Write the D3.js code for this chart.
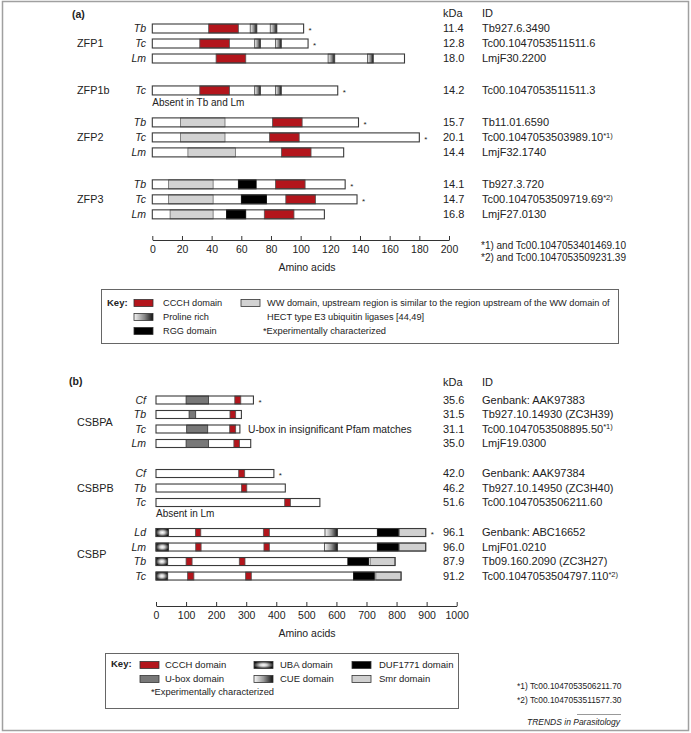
<!DOCTYPE html>
<html><head><meta charset="utf-8">
<script src="https://cdn.jsdelivr.net/npm/d3@7"></script>
<style>body{margin:0;background:#fff}svg{display:block}text{font-family:"Liberation Sans",Arial,Helvetica,sans-serif;fill:#222}</style>
</head><body>
<svg id="c" width="691" height="733"></svg>
<script>
// ---------- Panel (a) data ----------
const aGroups = ["ZFP1","ZFP1b","ZFP2","ZFP3"];
const aGroupOf = [0,0,0,1,2,2,2,3,3,3];
const aSpecies = ["Tb","Tc","Lm","Tc","Tb","Tc","Lm","Tb","Tc","Lm"];
const aLength = [102,105,170,125,139,180,129,130,138,116];
const aStar = [1,1,0,1,1,1,0,1,1,0];
const aKDa = ["11.4","12.8","18.0","14.2","15.7","20.1","14.4","14.1","14.7","16.8"];
const aID = ["Tb927.6.3490","Tc00.1047053511511.6","LmjF30.2200","Tc00.1047053511511.3","Tb11.01.6590","Tc00.1047053503989.10","LmjF32.1740","Tb927.3.720","Tc00.1047053509719.69","LmjF27.0130"];
const aSup = ["","","","","","*1)","","","*2)",""];
const aDomains = [
  [["CCCH",38,58],["PRO",66,70.5],["PRO",79.5,84]],
  [["CCCH",32,52],["PRO",69,73],["PRO",83,87]],
  [["CCCH",43,63],["PRO",118.5,123],["PRO",145,149]],
  [["CCCH",32,52],["PRO",69,73],["PRO",83,87]],
  [["WW",19,49],["CCCH",81,101]],
  [["WW",19,49],["CCCH",79,99]],
  [["WW",24,56],["CCCH",87,107]],
  [["WW",11,41],["RGG",58,70],["CCCH",83,103]],
  [["WW",11,41],["RGG",60,77],["CCCH",90,110]],
  [["WW",12,41],["RGG",50,63],["CCCH",75.5,95.5]]
];
const aTicks = [0,20,40,60,80,100,120,140,160,180,200];
const aNotes = ["*1) and Tc00.1047053401469.10","*2) and Tc00.1047053509231.39"];
const aAbsent = [{row:3,text:"Absent in Tb and Lm"}];

// ---------- Panel (b) data ----------
const bGroups = ["CSBPA","CSBPB","CSBP"];
const bGroupOf = [0,0,0,0,1,1,1,2,2,2,2];
const bSpecies = ["Cf","Tb","Tc","Lm","Cf","Tb","Tc","Ld","Lm","Tb","Tc"];
const bLength = [324,284,279,315,392,430,545,897,897,795,815];
const bStar = [1,0,0,0,1,0,0,1,0,0,0];
const bKDa = ["35.6","31.5","31.1","35.0","42.0","46.2","51.6","96.1","96.0","87.9","91.2"];
const bID = ["Genbank: AAK97383","Tb927.10.14930 (ZC3H39)","Tc00.1047053508895.50","LmjF19.0300","Genbank: AAK97384","Tb927.10.14950 (ZC3H40)","Tc00.1047053506211.60","Genbank: ABC16652","LmjF01.0210","Tb09.160.2090 (ZC3H27)","Tc00.1047053504797.110"];
const bSup = ["","","*1)","","","","","","","","*2)"];
const bDomains = [
  [["UBOX",100,175],["CCCH",262,282]],
  [["UBOX",110,132],["CCCH",246,265]],
  [["UBOX",102,172],["CCCH",245,265]],
  [["UBOX",100,175],["CCCH",259,278]],
  [["CCCH",275,295]],
  [["CCCH",284,302]],
  [["CCCH",428,447]],
  [["UBA",0,42],["CCCH",131,149],["CCCH",357,377],["CUE",562,604],["DUF",736,806],["SMR",809,897]],
  [["UBA",0,42],["CCCH",132,150],["CCCH",359,377],["CUE",560,604],["DUF",736,806],["SMR",809,897]],
  [["UBA",0,39],["CCCH",100,120],["CCCH",277,296],["DUF",638,707],["SMR",712,795]],
  [["UBA",0,39],["CCCH",105,126],["CCCH",298,317],["DUF",657,726],["SMR",731,815]]
];
const bTicks = [0,100,200,300,400,500,600,700,800,900,1000];
const bNotes = ["*1) Tc00.1047053506211.70","*2) Tc00.1047053511577.30"];
const bAbsent = [{row:6,text:"Absent in Lm"}];
const bSideNote = [{row:2,text:"U-box in insignificant Pfam matches"}];

// ---------- Keys ----------
const aKey = [
  {type:"CCCH",label:["CCCH domain"],col:0,row:0},
  {type:"PRO",label:["Proline rich"],col:0,row:1},
  {type:"RGG",label:["RGG domain"],col:0,row:2},
  {type:"WW",label:["WW domain, upstream region is similar to the region upstream of the WW domain of","HECT type E3 ubiquitin ligases [44,49]"],col:1,row:0}
];
const bKey = [
  {type:"CCCH",label:["CCCH domain"],col:0,row:0},
  {type:"UBOX",label:["U-box domain"],col:0,row:1},
  {type:"UBA",label:["UBA domain"],col:1,row:0},
  {type:"CUE",label:["CUE domain"],col:1,row:1},
  {type:"DUF",label:["DUF1771 domain"],col:2,row:0},
  {type:"SMR",label:["Smr domain"],col:2,row:1}
];

const FONT = "Liberation Sans, Arial, Helvetica, sans-serif";
const svg = d3.select("#c");
const defs = svg.append("defs");
function lin(id, stops){
  const g = defs.append("linearGradient").attr("id",id).attr("x1","0").attr("x2","1").attr("y1","0").attr("y2","0");
  stops.forEach(s=>g.append("stop").attr("offset",s[0]).attr("stop-color",s[1]));
}
lin("gPro",[[0,"#f4f4f4"],[0.55,"#888"],[1,"#111"]]);
lin("gCue",[[0,"#fafafa"],[0.5,"#999"],[1,"#111"]]);
const rg = defs.append("radialGradient").attr("id","gUba").attr("cx","0.5").attr("cy","0.5").attr("r","0.55");
[[0,"#ffffff"],[0.35,"#cfcfcf"],[0.75,"#555"],[1,"#111"]].forEach(s=>rg.append("stop").attr("offset",s[0]).attr("stop-color",s[1]));

const fills = {CCCH:"#b3151c",PRO:"url(#gPro)",RGG:"#000",WW:"#d2d2d2",UBOX:"#787878",UBA:"url(#gUba)",CUE:"url(#gCue)",DUF:"#000",SMR:"#d0d0d0"};
const strokes = {CCCH:"#555",PRO:"#444",RGG:"#000",WW:"#6a6a6a",UBOX:"#333",UBA:"#333",CUE:"#333",DUF:"#000",SMR:"#555"};

svg.append("rect").attr("x",2.5).attr("y",1.5).attr("width",686).attr("height",729).attr("fill","none").attr("stroke","#a0a0a0").attr("stroke-width",1.5);

function txt(g,x,y,s,o={}){
  const t = g.append("text").attr("x",x).attr("y",y).attr("dy","0.35em").text(s)
    .style("font-size",(o.size||10.5)+"px");
  if(o.anchor) t.attr("text-anchor",o.anchor);
  if(o.italic) t.style("font-style","italic");
  if(o.bold) t.style("font-weight","bold");
  return t;
}

function panel(cfg){
  const g = svg.append("g");
  const x = d3.scaleLinear().domain(cfg.xDomain).range(cfg.xRange);
  const slot = cfg.groupOf.map((gi,i)=>i+gi*cfg.gapSlots);
  const y = d3.scaleLinear().domain([0,1]).range([cfg.y0,cfg.y0+cfg.pitch]);
  const h = cfg.barH;
  txt(g,cfg.tagX,cfg.tagY,cfg.tag,{bold:true,size:10.5});
  txt(g,cfg.kdaX,cfg.headY,"kDa",{size:11});
  txt(g,cfg.idX,cfg.headY,"ID",{size:11});
  cfg.groups.forEach((name,gi)=>{
    const rows = slot.filter((s,i)=>cfg.groupOf[i]===gi);
    const yc = y((d3.min(rows)+d3.max(rows))/2);
    txt(g,cfg.groupX,yc,name,{size:10.8});
  });
  cfg.species.forEach((sp,i)=>{
    const yc = y(slot[i]);
    txt(g,cfg.spX,yc,sp,{italic:true,anchor:"end"});
    const row = g.append("g");
    row.append("rect").attr("x",x(0)).attr("y",yc-h/2).attr("width",x(cfg.length[i])-x(0)).attr("height",h)
      .attr("fill","#fff");
    cfg.domains[i].forEach(d=>{
      row.append("rect").attr("x",x(d[1])).attr("y",yc-h/2).attr("width",x(d[2])-x(d[1])).attr("height",h)
        .attr("fill",fills[d[0]]).attr("stroke",strokes[d[0]]).attr("stroke-width",0.8);
    });
    row.append("rect").attr("x",x(0)).attr("y",yc-h/2).attr("width",x(cfg.length[i])-x(0)).attr("height",h)
      .attr("fill","none").attr("stroke","#3a3a3a").attr("stroke-width",1.1);
    if(cfg.star[i]) txt(g,x(cfg.length[i])+5,yc+2,"*",{size:8});
    txt(g,cfg.kdaX,yc,cfg.kda[i],{size:11});
    const t = txt(g,cfg.idX,yc,cfg.ids[i],{size:11});
    if(cfg.sup[i]) t.append("tspan").attr("dy","-0.45em").style("font-size","7.5px").text(cfg.sup[i]);
  });
  cfg.absent.forEach(a=>txt(g,x(0),y(slot[a.row])+cfg.absentDy,a.text,{size:10}));
  (cfg.side||[]).forEach(a=>txt(g,cfg.sideX,y(slot[a.row]),a.text,{size:10.3}));
  const ax = g.append("g").attr("transform",`translate(0,${cfg.axisY})`)
    .call(d3.axisBottom(x).tickValues(cfg.ticks).tickFormat(d3.format("d")).tickSizeInner(-4).tickSizeOuter(0).tickPadding(6));
  ax.select(".domain").attr("stroke","#333");
  ax.selectAll(".tick line").attr("stroke","#333");
  ax.selectAll("text").style("font-size","10.5px").style("font-family",FONT).attr("fill","#222");
  txt(g,cfg.labelX,cfg.axisY+27,"Amino acids",{anchor:"middle"});
  cfg.notes.forEach((n,k)=>txt(g,cfg.noteX,cfg.noteY+k*cfg.noteDy,n,{size:cfg.noteSize}));
}

panel({tag:"(a)",tagX:72,tagY:14,headY:13,kdaX:443,idX:482,groupX:77,spX:146,
  xDomain:[0,200],xRange:[152.3,449],y0:28.5,pitch:15,gapSlots:1.13,barH:9,
  groups:aGroups,groupOf:aGroupOf,species:aSpecies,length:aLength,star:aStar,kda:aKDa,ids:aID,sup:aSup,domains:aDomains,
  absent:aAbsent,absentDy:12,ticks:aTicks,axisY:240,labelX:307,notes:aNotes,noteX:481,noteY:245,noteDy:12,noteSize:10});

panel({tag:"(b)",tagX:69,tagY:381,headY:382,kdaX:443,idX:482,groupX:77,spX:146,
  xDomain:[0,1000],xRange:[156,456.7],y0:400,pitch:14.5,gapSlots:1.07,barH:8,
  groups:bGroups,groupOf:bGroupOf,species:bSpecies,length:bLength,star:bStar,kda:bKDa,ids:bID,sup:bSup,domains:bDomains,
  absent:bAbsent,absentDy:11,side:bSideNote,sideX:248,ticks:bTicks,axisY:606,labelX:307,notes:bNotes,noteX:517,noteY:686,noteDy:14,noteSize:8.4});

function key(cfg, items){
  const g = svg.append("g");
  g.append("rect").attr("x",cfg.x+0.5).attr("y",cfg.y+0.5).attr("width",cfg.w).attr("height",cfg.h)
    .attr("fill","none").attr("stroke","#666").attr("stroke-width",1);
  txt(g,cfg.x+6,cfg.keyY,"Key:",{bold:true,size:9.5});
  items.forEach(it=>{
    const sx = cfg.colSw[it.col], yc = cfg.rowY[it.row];
    g.append("rect").attr("x",sx).attr("y",yc-3.5).attr("width",19).attr("height",7)
      .attr("fill",fills[it.type]).attr("stroke","#333").attr("stroke-width",0.8);
    it.label.forEach((l,k)=>txt(g,cfg.colTx[it.col],yc+k*(cfg.rowY[1]-cfg.rowY[0]),l,{size:cfg.size}));
  });
  txt(g,cfg.expX,cfg.expY,"*Experimentally characterized",{size:9.3});
}
key({x:101,y:289,w:517,h:54,keyY:303,colSw:[134,241],colTx:[163,267],rowY:[303,317,331],expX:263,expY:331,size:9.2},aKey);
key({x:105,y:653,w:353,h:55,keyY:664,colSw:[140,254,352],colTx:[165,280,379],rowY:[665,679],expX:151,expY:692,size:9.5},bKey);

svg.append("line").attr("x1",577).attr("x2",621).attr("y1",714.5).attr("y2",714.5).attr("stroke","#999");
txt(svg,620,722,"TRENDS in Parasitology",{italic:true,anchor:"end",size:8.5});
</script>
</body></html>
